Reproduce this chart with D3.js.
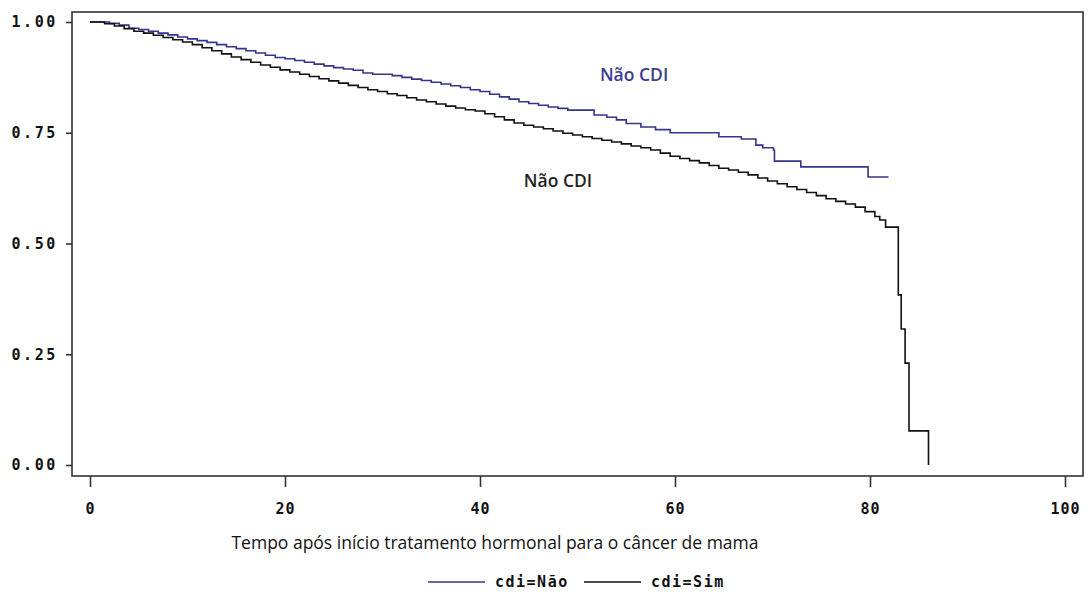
<!DOCTYPE html>
<html>
<head>
<meta charset="utf-8">
<script src="https://cdn.jsdelivr.net/npm/d3@7"></script>
<style>
  html, body { margin: 0; padding: 0; background: #fff; }
  svg { display: block; }
  .tick text { font-family: "DejaVu Sans Mono", monospace; font-weight: bold; fill: #111; }
</style>
</head>
<body>
<svg id="chart" width="1088" height="599"></svg>
<script>
// Kaplan-Meier survival estimates, time in months: [time, survival]
const survivalNao = [
  [0, 1.000], [2, 0.997], [3, 0.993], [4, 0.986], [5, 0.983], [6, 0.979], [7, 0.975],
  [8, 0.971], [9, 0.966], [10, 0.962], [11, 0.958], [12, 0.954], [13, 0.949], [14, 0.944],
  [15, 0.940], [16, 0.935], [17, 0.930], [18, 0.925], [19, 0.920], [20, 0.917], [21, 0.913],
  [22, 0.909], [23, 0.905], [24, 0.901], [25, 0.897], [26, 0.894], [27, 0.891], [28, 0.885],
  [29, 0.882], [31, 0.879], [32, 0.875], [33, 0.871], [34, 0.868], [35, 0.864], [36, 0.860],
  [37, 0.856], [38, 0.852], [39, 0.847], [40, 0.843], [41, 0.837], [42, 0.831], [43, 0.826],
  [44, 0.820], [45, 0.816], [46, 0.812], [47, 0.808], [48, 0.805], [49, 0.801], [51.7, 0.790],
  [53, 0.785], [54, 0.779], [55, 0.771], [56.5, 0.763], [58, 0.757], [59.5, 0.750],
  [64.5, 0.741], [66.8, 0.736], [68.3, 0.722], [69, 0.716], [70.1, 0.711], [70.2, 0.686],
  [72.9, 0.673], [79.8, 0.650], [81.9, 0.650]
];

const survivalSim = [
  [0, 1.000], [1.5, 0.996], [2.5, 0.991], [3.5, 0.985], [4.5, 0.979], [5.5, 0.975],
  [6.5, 0.970], [7.5, 0.965], [8.5, 0.960], [9.5, 0.955], [10.5, 0.949], [11.5, 0.942],
  [12.5, 0.935], [13.5, 0.928], [14.5, 0.921], [15.5, 0.915], [16.5, 0.909], [17.5, 0.903],
  [18.5, 0.898], [19.5, 0.892], [20.5, 0.887], [21.5, 0.882], [22.5, 0.877], [23.5, 0.872],
  [24.5, 0.867], [25.5, 0.862], [26.5, 0.857], [27.5, 0.852], [28.5, 0.847], [29.5, 0.843],
  [30.5, 0.838], [31.5, 0.834], [32.5, 0.829], [33.5, 0.824], [34.5, 0.820], [35.5, 0.815],
  [36.5, 0.810], [37.5, 0.806], [38.5, 0.802], [39.5, 0.799], [40.5, 0.793], [41.5, 0.786],
  [42.5, 0.779], [43.5, 0.772], [44.5, 0.767], [45.5, 0.763], [46.5, 0.759], [47.5, 0.754],
  [48.5, 0.749], [49.5, 0.745], [50.5, 0.741], [51.5, 0.737], [52.5, 0.733], [53.5, 0.729],
  [54.5, 0.725], [55.5, 0.720], [56.5, 0.716], [57.5, 0.711], [58.5, 0.704], [59.5, 0.697],
  [60.5, 0.692], [61.5, 0.687], [62.5, 0.682], [63.5, 0.676], [64.5, 0.670], [65.5, 0.666],
  [66.5, 0.661], [67.5, 0.655], [68.5, 0.648], [69.5, 0.641], [70.5, 0.635], [71.5, 0.628],
  [72.5, 0.622], [73.5, 0.615], [74.5, 0.608], [75.5, 0.601], [76.5, 0.595], [77.5, 0.589],
  [78.5, 0.582], [79.5, 0.572], [80.5, 0.561], [81.0, 0.553], [81.6, 0.537], [82.9, 0.384],
  [83.2, 0.307], [83.6, 0.230], [84.0, 0.077], [86.0, 0.000]
];

const xTicks = [0, 20, 40, 60, 80, 100];
const yTicks = [0, 0.25, 0.5, 0.75, 1.0];
const xTitle = "Tempo após início tratamento hormonal para o câncer de mama";
const legendLabels = ["cdi=Não", "cdi=Sim"];
const curveLabels = [
  { text: "Não CDI", t: 55.8, s: 0.877, series: 0 },
  { text: "Não CDI", t: 48.0, s: 0.637, series: 1 }
];

const colors = ["#34348a", "#111111"];

const svg = d3.select("#chart");

const frame = { left: 72, top: 12, right: 1083, bottom: 476 };
const x = d3.scaleLinear().domain([0, 100]).range([90, 1065]);
const y = d3.scaleLinear().domain([0, 1]).range([465, 22]);

// plot frame
svg.append("rect")
  .attr("x", frame.left).attr("y", frame.top)
  .attr("width", frame.right - frame.left)
  .attr("height", frame.bottom - frame.top)
  .attr("fill", "none").attr("stroke", "#333").attr("stroke-width", 1.6);

// y axis
const yAxis = svg.append("g")
  .attr("transform", `translate(${frame.left},0)`)
  .call(d3.axisLeft(y).tickValues(yTicks).tickFormat(d3.format(".2f")).tickSize(6).tickPadding(8));
yAxis.select(".domain").remove();
yAxis.selectAll(".tick line").attr("stroke", "#333").attr("stroke-width", 1.6);
yAxis.selectAll(".tick text").style("font-size", "15px").style("letter-spacing", "2.6px");

// x axis
const xAxis = svg.append("g")
  .attr("transform", `translate(0,${frame.bottom})`)
  .call(d3.axisBottom(x).tickValues(xTicks).tickFormat(d3.format("d")).tickSize(11).tickPadding(16));
xAxis.select(".domain").remove();
xAxis.selectAll(".tick line").attr("stroke", "#333").attr("stroke-width", 1.6);
xAxis.selectAll(".tick text").style("font-size", "15px").style("letter-spacing", "1px");

// survival step curves
const line = d3.line()
  .x(d => x(d[0]))
  .y(d => y(d[1]))
  .curve(d3.curveStepAfter);

[survivalNao, survivalSim].forEach((data, i) => {
  svg.append("path")
    .datum(data)
    .attr("d", line)
    .attr("fill", "none")
    .attr("stroke", colors[i])
    .attr("stroke-width", 1.6);
});

// curve labels
svg.selectAll(".curve-label")
  .data(curveLabels)
  .join("text")
  .attr("class", "curve-label")
  .attr("x", d => x(d.t))
  .attr("y", d => y(d.s))
  .attr("text-anchor", "middle")
  .attr("dominant-baseline", "middle")
  .style("font-family", "'Open Sans', sans-serif")
  .style("font-size", "17.5px")
  .style("font-weight", "600")
  .attr("fill", d => d.series === 0 ? "#3c3c8e" : "#222")
  .text(d => d.text);

// x axis title
svg.append("text")
  .attr("x", 495)
  .attr("y", 549)
  .attr("text-anchor", "middle")
  .style("font-family", "'Open Sans', sans-serif")
  .style("font-size", "17.5px")
  .attr("fill", "#111")
  .text(xTitle);

// legend
const legend = svg.append("g").attr("transform", "translate(0,585)");
const legendItems = [
  { x0: 428, x1: 485, tx: 495 },
  { x0: 584, x1: 641, tx: 651 }
];
legendItems.forEach((item, i) => {
  legend.append("line")
    .attr("x1", item.x0).attr("x2", item.x1)
    .attr("y1", -3).attr("y2", -3)
    .attr("stroke", colors[i]).attr("stroke-width", 1.6);
  legend.append("text")
    .attr("x", item.tx).attr("y", 2)
    .style("font-family", "'DejaVu Sans Mono', monospace")
    .style("font-weight", "bold")
    .style("font-size", "15px")
    .style("letter-spacing", "1.5px")
    .attr("fill", "#111")
    .text(legendLabels[i]);
});
</script>
</body>
</html>
